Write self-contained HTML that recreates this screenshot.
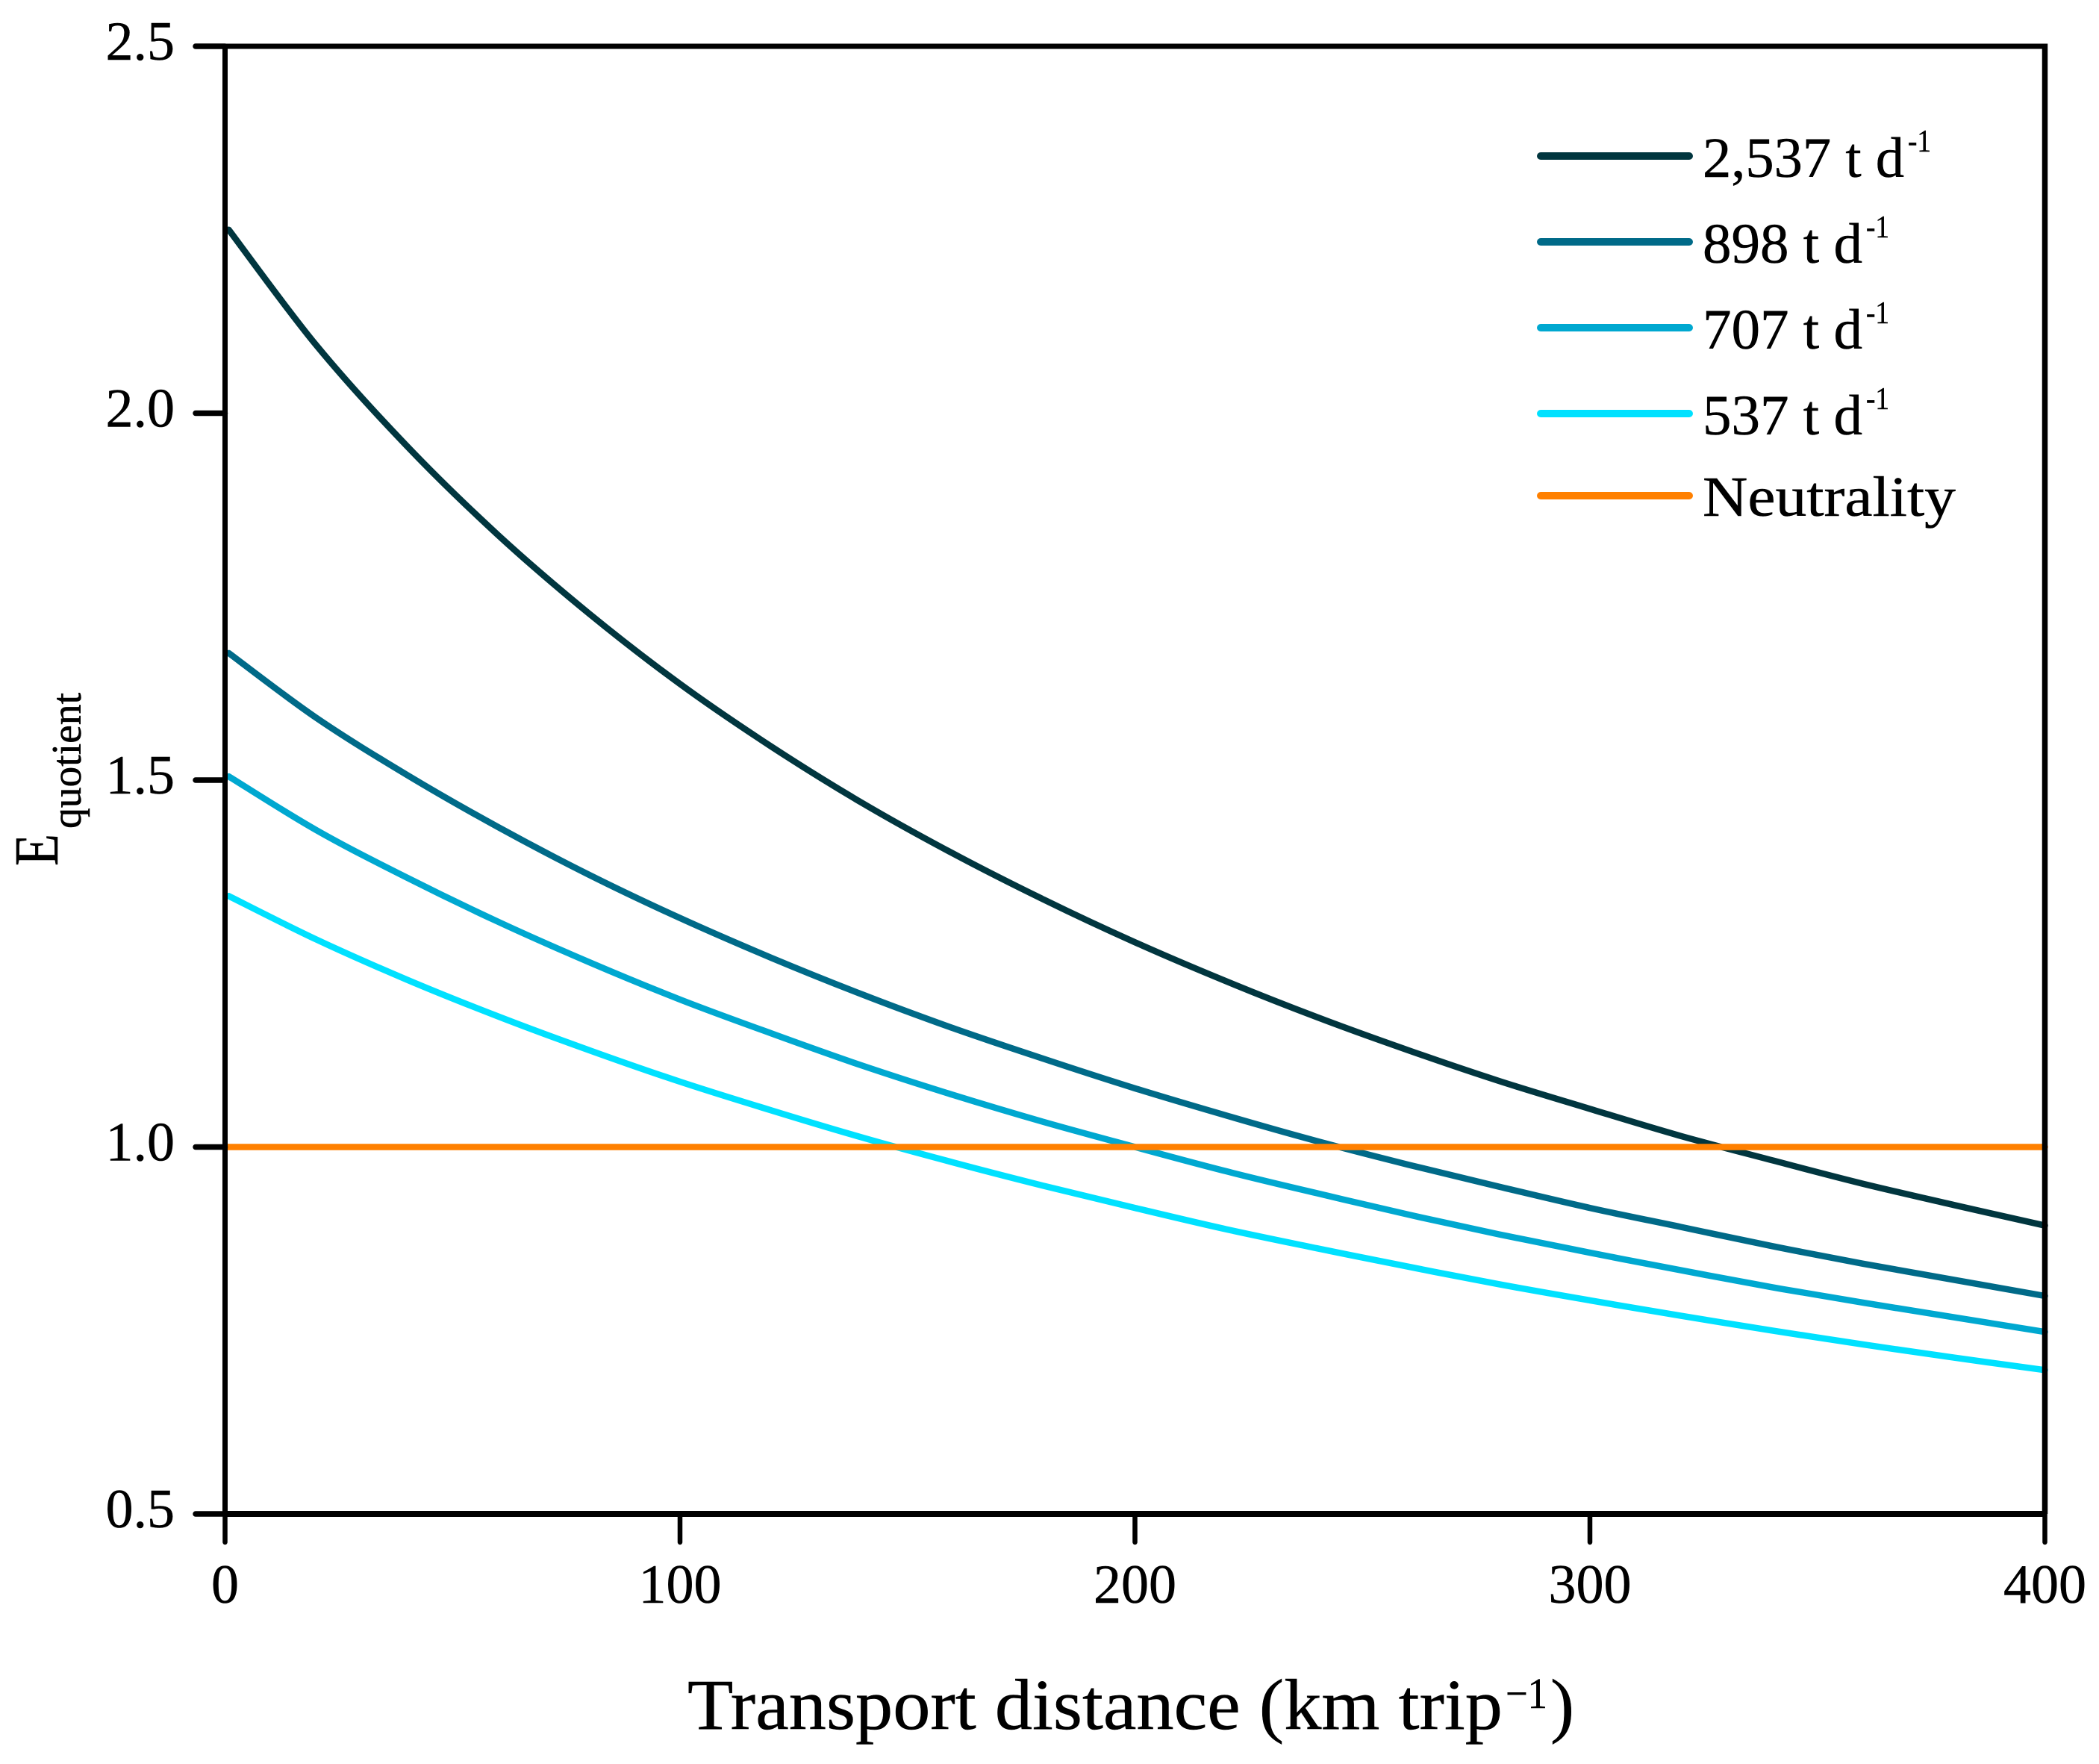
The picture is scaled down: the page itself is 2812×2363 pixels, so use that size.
<!DOCTYPE html>
<html lang="en">
<head>
<meta charset="utf-8">
<title>Equotient vs transport distance</title>
<style>
html,body{margin:0;padding:0;background:#fff;}
svg{display:block;}
text{font-family:"Liberation Serif",serif;fill:#000;stroke:#000;stroke-width:0.5px;}
</style>
</head>
<body>
<svg id="chart" xmlns="http://www.w3.org/2000/svg" width="2812" height="2363" viewBox="0 0 2812 2363">
  <rect x="0" y="0" width="2812" height="2363" fill="#ffffff"/>
  <g id="series-layer"></g>
  <g id="axis-layer"></g>

  <g>
    <g>
      <line x1="2064" y1="209" x2="2263" y2="209" stroke="#01363f" stroke-width="10" stroke-linecap="round"/>
      <text x="2281" y="237" font-size="76" textLength="270" lengthAdjust="spacingAndGlyphs">2,537 t d</text>
      <text x="2556" y="203" font-size="42" textLength="31" lengthAdjust="spacingAndGlyphs">-1</text>
    </g>
    <g>
      <line x1="2064" y1="324" x2="2263" y2="324" stroke="#006a88" stroke-width="10" stroke-linecap="round"/>
      <text x="2281" y="352" font-size="76" textLength="214" lengthAdjust="spacingAndGlyphs">898 t d</text>
      <text x="2500" y="318" font-size="42" textLength="31" lengthAdjust="spacingAndGlyphs">-1</text>
    </g>
    <g>
      <line x1="2064" y1="439" x2="2263" y2="439" stroke="#00a8d0" stroke-width="10" stroke-linecap="round"/>
      <text x="2281" y="467" font-size="76" textLength="214" lengthAdjust="spacingAndGlyphs">707 t d</text>
      <text x="2500" y="433" font-size="42" textLength="31" lengthAdjust="spacingAndGlyphs">-1</text>
    </g>
    <g>
      <line x1="2064" y1="554" x2="2263" y2="554" stroke="#00e1ff" stroke-width="10" stroke-linecap="round"/>
      <text x="2281" y="582" font-size="76" textLength="214" lengthAdjust="spacingAndGlyphs">537 t d</text>
      <text x="2500" y="548" font-size="42" textLength="31" lengthAdjust="spacingAndGlyphs">-1</text>
    </g>
    <g>
      <line x1="2064" y1="664" x2="2263" y2="664" stroke="#ff8000" stroke-width="10" stroke-linecap="round"/>
      <text x="2281" y="691" font-size="76" textLength="339" lengthAdjust="spacingAndGlyphs">Neutrality</text>
    </g>
  </g>

  <g>
    <text x="921" y="2316" font-size="96" textLength="1092" lengthAdjust="spacingAndGlyphs">Transport distance (km trip</text>
    <text x="2017" y="2288" font-size="58" textLength="56" lengthAdjust="spacingAndGlyphs">−1</text>
    <text x="2077" y="2316" font-size="96">)</text>
  </g>

  <g>
    <text transform="translate(77,1160) rotate(-90)" font-size="84" textLength="43" lengthAdjust="spacingAndGlyphs">E</text>
    <text transform="translate(108,1110) rotate(-90)" font-size="56" textLength="182" lengthAdjust="spacingAndGlyphs">quotient</text>
  </g>
</svg>
<script>
const distances = [0,20,40,60,80,100,120,140,160,180,200,220,240,260,280,300,320,340,360,380,400];
const series2537 = [2.25,2.093,1.955,1.834,1.727,1.631,1.546,1.469,1.400,1.337,1.279,1.226,1.177,1.132,1.090,1.052,1.015,0.982,0.950,0.921,0.893];
const series898 = [1.673,1.585,1.507,1.436,1.371,1.312,1.258,1.208,1.162,1.120,1.080,1.043,1.008,0.976,0.946,0.917,0.891,0.865,0.841,0.819,0.797];
const series707 = [1.505,1.432,1.367,1.307,1.252,1.201,1.155,1.111,1.071,1.034,1.000,0.967,0.937,0.908,0.881,0.856,0.832,0.809,0.788,0.768,0.748];
const series537 = [1.342,1.283,1.228,1.178,1.132,1.089,1.050,1.013,0.979,0.947,0.917,0.888,0.862,0.837,0.813,0.791,0.770,0.750,0.731,0.713,0.696];
const neutralityDistances = [0,400];
const neutralityValues = [1,1];
const xTickValues = [0,100,200,300,400];
const xTickLabels = ["0","100","200","300","400"];
const yTickValues = [0.5,1.0,1.5,2.0,2.5];
const yTickLabels = ["0.5","1.0","1.5","2.0","2.5"];

const NS = "http://www.w3.org/2000/svg";
const plotLeft = 301.5, plotRight = 2739.5, plotTop = 62, plotBottom = 2028;
const xDomain = [0,400], yDomain = [0.5,2.5];
function xScale(v){ return plotLeft + (v - xDomain[0]) / (xDomain[1] - xDomain[0]) * (plotRight - plotLeft); }
function yScale(v){ return plotBottom - (v - yDomain[0]) / (yDomain[1] - yDomain[0]) * (plotBottom - plotTop); }

const seriesLayer = document.getElementById("series-layer");
const axisLayer = document.getElementById("axis-layer");

function drawLine(parent, x1, y1, x2, y2, width, cap){
  const el = document.createElementNS(NS, "line");
  el.setAttribute("x1", x1);
  el.setAttribute("y1", y1);
  el.setAttribute("x2", x2);
  el.setAttribute("y2", y2);
  el.setAttribute("stroke", "#000");
  el.setAttribute("stroke-width", width);
  el.setAttribute("stroke-linecap", cap);
  parent.appendChild(el);
  return el;
}
function drawLabel(parent, x, y, anchor, str){
  const el = document.createElementNS(NS, "text");
  el.setAttribute("x", x);
  el.setAttribute("y", y);
  el.setAttribute("text-anchor", anchor);
  el.setAttribute("font-size", "74");
  el.textContent = str;
  parent.appendChild(el);
  return el;
}
function smoothPath(xs, ys, startInset){
  const p = xs.map(function(x, i){
    return [i === 0 ? xScale(x) + startInset : xScale(x), yScale(ys[i])];
  });
  let d = "M" + p[0][0].toFixed(1) + " " + p[0][1].toFixed(1);
  for (let i = 0; i < p.length - 1; i++){
    const a = p[Math.max(i - 1, 0)], b = p[i], c = p[i + 1], e = p[Math.min(i + 2, p.length - 1)];
    const c1x = b[0] + (c[0] - a[0]) / 6, c1y = b[1] + (c[1] - a[1]) / 6;
    const c2x = c[0] - (e[0] - b[0]) / 6, c2y = c[1] - (e[1] - b[1]) / 6;
    d += " C" + c1x.toFixed(1) + " " + c1y.toFixed(1) + " " + c2x.toFixed(1) + " " + c2y.toFixed(1) + " " + c[0].toFixed(1) + " " + c[1].toFixed(1);
  }
  return d;
}
function drawSeries(xs, ys, color, name, startInset){
  const el = document.createElementNS(NS, "path");
  el.setAttribute("d", smoothPath(xs, ys, startInset));
  el.setAttribute("fill", "none");
  el.setAttribute("stroke", color);
  el.setAttribute("stroke-width", "8.5");
  el.setAttribute("stroke-linejoin", "round");
  el.setAttribute("stroke-linecap", "round");
  
  
  seriesLayer.appendChild(el);
}
drawSeries(distances, series2537, "#01363f", "line-2537-t-per-day", 5);
drawSeries(distances, series898, "#006a88", "line-898-t-per-day", 5);
drawSeries(distances, series707, "#00a8d0", "line-707-t-per-day", 5);
drawSeries(distances, series537, "#00e1ff", "line-537-t-per-day", 5);
drawSeries(neutralityDistances, neutralityValues, "#ff8000", "line-neutrality", 0);

const frameLeft = drawLine(axisLayer, plotLeft, plotTop, plotLeft, plotBottom, 7, "butt");


const frameRight = drawLine(axisLayer, plotRight, plotTop - 3.5, plotRight, plotBottom, 7.5, "butt");


const frameTop = drawLine(axisLayer, plotLeft, plotTop, plotRight, plotTop, 7, "butt");


const frameBottom = drawLine(axisLayer, plotLeft, plotBottom, plotRight, plotBottom, 8, "butt");



yTickValues.forEach(function(v, i){
  const y = yScale(v);
  const tick = drawLine(axisLayer, 262, y, plotLeft, y, 7.5, "round");
  
  
  const label = drawLabel(axisLayer, 234, y + 18, "end", yTickLabels[i]);
  
  
});
xTickValues.forEach(function(v, i){
  const x = xScale(v);
  const tick = drawLine(axisLayer, x, plotBottom, x, 2066, 6.5, "round");
  
  
  const label = drawLabel(axisLayer, x, 2147, "middle", xTickLabels[i]);
  
  
});
</script>
</body>
</html>
